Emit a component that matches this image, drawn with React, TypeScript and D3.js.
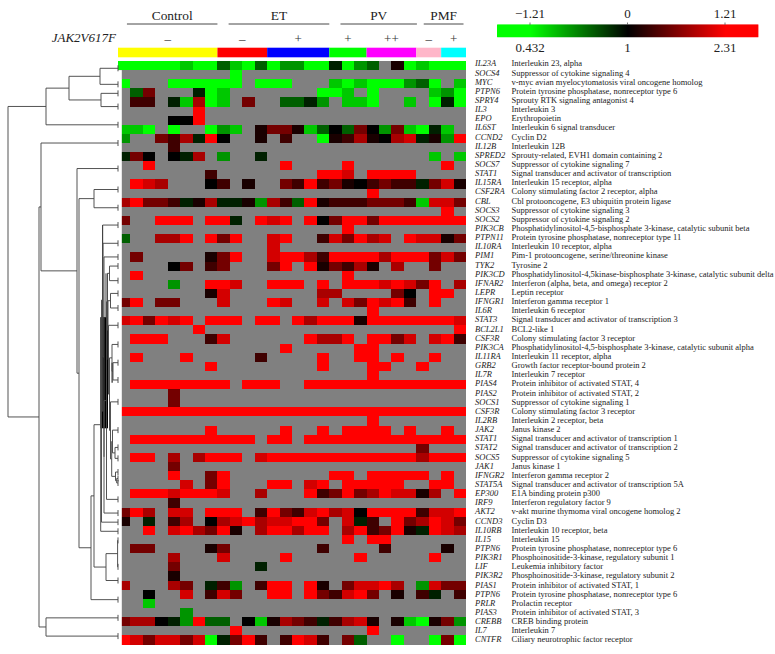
import React from "react";
import * as d3 from "d3";

// ---------- data ----------
const geneSymbols = ["IL23A","SOCS4","MYC","PTPN6","SPRY4","IL3","EPO","IL6ST","CCND2","IL12B","SPRED2","SOCS7","STAT1","IL15RA","CSF2RA","CBL","SOCS3","SOCS2","PIK3CB","PTPN11","IL10RA","PIM1","TYK2","PIK3CD","IFNAR2","LEPR","IFNGR1","IL6R","STAT3","BCL2L1","CSF3R","PIK3CA","IL11RA","GRB2","IL7R","PIAS4","PIAS2","SOCS1","CSF3R","IL2RB","JAK2","STAT1","STAT2","SOCS5","JAK1","IFNGR2","STAT5A","EP300","IRF9","AKT2","CCND3","IL10RB","IL15","PTPN6","PIK3R1","LIF","PIK3R2","PIAS1","PTPN6","PRLR","PIAS3","CREBB","IL7","CNTFR"];

const geneNames = [
"Interleukin 23, alpha","Suppressor of cytokine signaling 4","v-myc avian myelocytomatosis viral oncogene homolog","Protein tyrosine phosphatase, nonreceptor type 6","Sprouty RTK signaling antagonist 4","Interleukin 3","Erythropoietin","Interleukin 6 signal transducer","Cyclin D2","Interleukin 12B","Sprouty-related, EVH1 domain containing 2","Suppressor of cytokine signaling 7","Signal transducer and activator of transcription","Interleukin 15 receptor, alpha","Colony stimulating factor 2 receptor, alpha","Cbl protooncogene, E3 ubiquitin protein ligase","Suppressor of cytokine signaling 3","Suppressor of cytokine signaling 2","Phosphatidylinositol-4,5-bisphosphate 3-kinase, catalytic subunit beta","Protein tyrosine phosphatase, nonreceptor type 11","Interleukin 10 receptor, alpha","Pim-1 protooncogene, serine/threonine kinase","Tyrosine 2","Phosphatidylinositol-4,5kinase-bisphosphate 3-kinase, catalytic subunit delta","Interferon (alpha, beta, and omega) receptor 2","Leptin receptor","Interferon gamma receptor 1","Interleukin 6 receptor","Signal transducer and activator of transcription 3","BCL2-like 1","Colony stimulating factor 3 receptor","Phosphatidylinositol-4,5-bisphosphate 3-kinase, catalytic subunit alpha","Interleukin 11 receptor, alpha","Growth factor receptor-bound protein 2","Interleukin 7 receptor","Protein inhibitor of activated STAT, 4","Protein inhibitor of activated STAT, 2","Suppressor of cytokine signaling 1","Colony stimulating factor 3 receptor","Interleukin 2 receptor, beta","Janus kinase 2","Signal transducer and activator of transcription 1","Signal transducer and activator of transcription 2","Suppressor of cytokine signaling 5","Janus kinase 1","Interferon gamma receptor 2","Signal transducer and activator of transcription 5A","E1A binding protein p300","Interferon regulatory factor 9","v-akt murine thymoma viral oncogene homolog 2","Cyclin D3","Interleukin 10 receptor, beta","Interleukin 15","Protein tyrosine phosphatase, nonreceptor type 6","Phosphoinositide-3-kinase, regulatory subunit 1","Leukemia inhibitory factor","Phosphoinositide-3-kinase, regulatory subunit 2","Protein inhibitor of activated STAT, 1","Protein tyrosine phosphatase, nonreceptor type 6","Prolactin receptor","Protein inhibitor of activated STAT, 3","CREB binding protein","Interleukin 7","Ciliary neurotrophic factor receptor"];

// Log fold change read per cell; '.' = not significant (grey)
const levelValues: Record<string, number> = { a: -1.21, b: -0.95, c: -0.7, d: -0.45, e: -0.15, "0": 0, "1": 0.12, "2": 0.3, "3": 0.55, "4": 0.8, "5": 1.0, "6": 1.21 };
const expressionRows = [
"aaaaabaadbadaccaaeacd.1abaaa",
".........a..................",
"a...aaaaaa.aaa...babaaacda.b",
".d3...eab.......aab.a....bca",
".22.eb4ab.3..ddec.bba..b.aea",
"......6.....................",
"....006.....................",
"bba.a..acb.1331bd0d30c3baeb.",
"c..324e60..1.2..a1241045e1c6",
"....2.......................",
"e30.0e4.c..e.............b.b",
"..6..........6....6.......6.",
".......2........665.6666....",
".654...02.1..32623102322e351",
"....................6.......",
"46332e14ee1c42d612223332b553",
"..........................6.",
"3..666.66e.656.6036636666666",
"..................6.........",
"d..446.636..56..253645.65513",
"............5...............",
".3.....136..5664266664666353",
"....03.23...36.613241.4..3..",
".6................6.........",
"....c..665..666.6.66656536.4",
".......15.......44....30.66.",
"36.33...5...65..5.536562.6..",
"....................6.......",
"563656.666.66.64666166666665",
"......6....................6",
".666...25......6446.6635.562",
".............6.....66.......",
".6...6.....2....6..66.6..6..",
".......6........6...66..6...",
"....................6.......",
".66666666.666..6666666666666",
"....3.......................",
"....3.......................",
"6666666666666666666666666666",
"....................6.......",
".......6.....6..6.6666.6..6.",
".6666666666.66.6666666666666",
"........................3...",
".66.4.4666.56666666666664666",
"....3.......................",
"....6..36........66.66666.6.",
".....5.36...66.56.66666..66.",
".66656665..4...62363465514.6",
"....2.......................",
"364.55.666.26325645066662556",
"1.e.24.0456455663.5e2.634653",
"..6.564361.466466.462361e654",
"..................6.66......",
".33....13.......2....2....1.",
"....4...5....6.....6.....6..",
"....3......e................",
"....1.......................",
"4...43.e2c.266.61.35564.c533",
"..0..5.253..66.632563.1.2e.2",
"..b.........................",
".....c......................",
"3440ec6dd.0b1432e2451.1ba13c",
".........6..........6.......",
"6535535ae362.2652.3d..a..a3a",
];

const sampleGroupColors = ["#ffff00", "#ff0000", "#0000ff", "#00ff00", "#ff00ff", "#ffb6c9", "#00ffff"];
const sampleGroupSizes = [8, 4, 5, 3, 4, 2, 2];
const sampleGroupMarks = ["\u2013", "\u2013", "+", "+", "++", "\u2013", "+"];
const sampleGroupMarkCentre = [4, 10, 14.5, 18.5, 22, 25, 27];

const diseases = ["Control", "ET", "PV", "PMF"];
const diseaseStart = [0.72, 8.9, 17.9, 24.6];
const diseaseEnd = [8, 17, 24.05, 27.8];

const legendLogTicks = [-1.21, 0, 1.21];
const legendLogLabels = ["\u22121.21", "0", "1.21"];
const legendFoldLabels = ["0.432", "1", "2.31"];

// Dendrogram: [merge height, child, child]; a plain number is a leaf at that row position
type Tree = number | any[];
const chainBottom: Tree = [6.3, [5.5, 40, [3, 41.9, 43.1]], [2.5, 44.6, [1.3, 45.3, 45.8]]];
const chainMiddle: Tree = [10.5, [8.5, 22, 23.6], [10, [7.5, 25, 26.6], [9.5, 28.5, [8.5, [6, 30.6, [5, 32.6, 34.5]], [7.5, 36.9, chainBottom]]]]];
const chainTop: Tree = [17.3, [15.3, 17.5, [16.5, [15, 19.5, [14, 21, [14, [11.5, chainMiddle, 47.6], 49.1]]], 50.1]], 51.1];
const dendrogram: Tree = [110,
  [72, [49, [18, 0.3, 2.06], [17, 3.05, 4.5]], 6.5],
  [79,
    [77, 8.5,
      [41, 11.3,
        [39, [24, 13.6, 15.6],
          [27, [24, chainTop, [12, [0.4, 52.1, 55], 56.5]], 58.6]]]],
    [72, 60.6, 62.6]]];
// Stretches where merges at nearly equal heights pile up and read as one solid bar
const collapsedMerges = [
  { heightLow: 10, heightHigh: 17.6, rowLow: 27.6, rowHigh: 39.8, shade: "#000000" },
  { heightLow: 10, heightHigh: 13, rowLow: 22.8, rowHigh: 27.6, shade: "#9a9a9a" },
  { heightLow: 5.4, heightHigh: 6.4, rowLow: 32.6, rowHigh: 34.8, shade: "#000000" },
  { heightLow: 15, heightHigh: 15.8, rowLow: 17.5, rowHigh: 27.6, shade: "#000000" },
];

// ---------- layout ----------
const WIDTH = 775, HEIGHT = 654;
const SERIF = "'Liberation Serif', serif";
const HEAT_LEFT = 118, HEAT_RIGHT = 466, HEAT_TOP = 61, HEAT_BOTTOM = 644.3;
const nCols = expressionRows[0].length;

const xCol = d3.scaleLinear().domain([0, nCols]).range([HEAT_LEFT, HEAT_RIGHT]);
const yRow = d3.scaleLinear().domain([0, expressionRows.length]).range([HEAT_TOP, HEAT_BOTTOM]);
const xHeight = d3.scaleLinear().domain([0, 110]).range([118, 8]);
const yLeaf = (r: number) => yRow(r + 0.5);
const yLabel = d3.scaleLinear().domain([0, geneSymbols.length - 1]).range([66.4, 642.4]);

const color = d3.scaleLinear<string>().domain([-1.21, 0, 1.21]).range(["#00ff00", "#000000", "#ff0000"]).clamp(true);
const legendX = d3.scaleLinear().domain([-1.21, 1.21]).range([530, 725]);

function dendrogramPath(): string {
  const root = d3.hierarchy<Tree>(dendrogram, (d) => (Array.isArray(d) ? d.slice(1) : null));
  const path = d3.path();
  root.eachAfter((n: any) => {
    if (!n.children) {
      n.py = yLeaf(n.data as number);
      n.hx = xHeight(0);
      path.moveTo(n.hx, n.py - 3);
      path.lineTo(n.hx, n.py + 3);
    } else {
      const ys = n.children.map((c: any) => c.py);
      n.py = (d3.min(ys)! + d3.max(ys)!) / 2;
      n.hx = xHeight((n.data as any[])[0]);
      path.moveTo(n.hx, d3.min(ys)!);
      path.lineTo(n.hx, d3.max(ys)!);
      n.children.forEach((c: any) => {
        path.moveTo(n.hx, c.py);
        path.lineTo(c.hx, c.py);
      });
    }
  });
  return path.toString();
}

export default function App() {
  let cumulative = 0;
  const groupBars = sampleGroupSizes.map((size, i) => {
    const start = cumulative;
    cumulative += size;
    return { start, size, color: sampleGroupColors[i], mark: sampleGroupMarks[i], centre: sampleGroupMarkCentre[i] };
  });

  return (
    <svg width={WIDTH} height={HEIGHT} viewBox={`0 0 ${WIDTH} ${HEIGHT}`}
      style={{ position: "absolute", left: 0, top: 0, display: "block", background: "#fff" }} fontFamily={SERIF}>
      {/* disease headers */}
      {diseases.map((d, i) => (
        <g key={d}>
          <text x={(xCol(diseaseStart[i]) + xCol(diseaseEnd[i])) / 2} y={20} textAnchor="middle" fontSize={13.4} fill="#222">{d}</text>
          <line x1={xCol(diseaseStart[i])} x2={xCol(diseaseEnd[i])} y1={24} y2={24} stroke="#333" strokeWidth={0.9} />
        </g>
      ))}
      <text x={116} y={42} textAnchor="end" fontSize={13} fontStyle="italic" fill="#222">JAK2V617F</text>
      {groupBars.map((g, i) => (
        <g key={i}>
          <text x={xCol(g.centre)} y={43} textAnchor="middle" fontSize={13} fill="#333">{g.mark}</text>
          <rect x={xCol(g.start)} y={47.7} width={xCol(g.start + g.size) - xCol(g.start)} height={9.6} fill={g.color} />
        </g>
      ))}

      {/* heat map */}
      <g shapeRendering="crispEdges">
        {expressionRows.map((row, r) =>
          row.split("").map((code, c) => (
            <rect key={`${r}-${c}`} x={xCol(c)} y={yRow(r)}
              width={xCol(c + 1) - xCol(c) + 0.4} height={yRow(r + 1) - yRow(r) + 0.4}
              fill={code === "." ? "#808080" : color(levelValues[code])} />
          ))
        )}
      </g>
      <rect x={HEAT_LEFT - 0.5} y={yRow(1)} width={4.3} height={HEAT_BOTTOM - yRow(1) + 1} fill="#fff" />
      <rect x={HEAT_LEFT - 0.5} y={yRow(0) - 1} width={0.5} height={HEAT_BOTTOM - HEAT_TOP + 2} fill="#fff" />

      {/* dendrogram */}
      {collapsedMerges.map((m, i) => (
        <rect key={i} x={xHeight(m.heightHigh)} width={xHeight(m.heightLow) - xHeight(m.heightHigh)}
          y={yLeaf(m.rowLow)} height={yLeaf(m.rowHigh) - yLeaf(m.rowLow)} fill={m.shade} />
      ))}
      <path d={dendrogramPath()} fill="none" stroke="#4a4a4a" strokeWidth={0.95} />

      {/* gene labels */}
      {geneSymbols.map((s, i) => (
        <g key={i} fontSize={8.5} fill="#222">
          <text x={475} y={yLabel(i)} fontStyle="italic">{s}</text>
          <text x={511.5} y={yLabel(i)}>{geneNames[i]}</text>
        </g>
      ))}

      {/* colour key */}
      {d3.range(497, 758).map((px) => (
        <rect key={px} x={px} y={24.5} width={1.4} height={12.7} fill={color(legendX.invert(px))} />
      ))}
      {legendLogTicks.map((t, i) => (
        <g key={t} fontSize={13} fill="#222" textAnchor="middle">
          <line x1={legendX(t)} x2={legendX(t)} y1={22.5} y2={25} stroke="#555" strokeWidth={0.8} />
          <text x={legendX(t)} y={17.5}>{legendLogLabels[i]}</text>
          <text x={legendX(t)} y={52}>{legendFoldLabels[i]}</text>
        </g>
      ))}
    </svg>
  );
}
